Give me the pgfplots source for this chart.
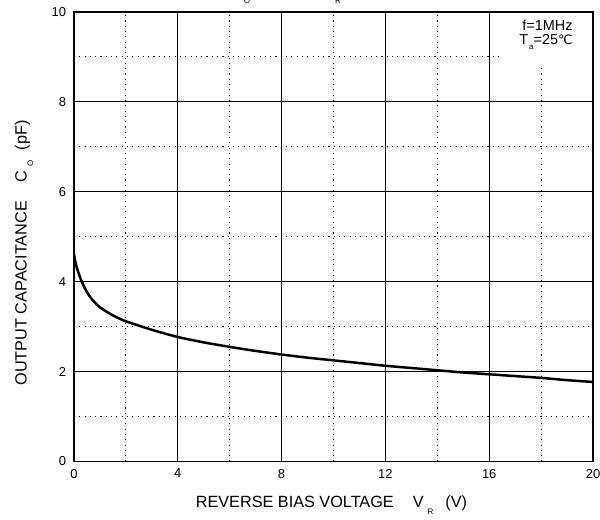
\documentclass[border=0pt]{standalone}
\usepackage{fontspec}
\setmainfont{Liberation Sans}
\newfontfamily\dejavu{DejaVu Sans}
\usepackage{pgfplots}
\pgfplotsset{compat=1.18}

\newcommand{\sub}[1]{\raisebox{-6.5bp}{\fontsize{8}{8}\selectfont #1}}

\begin{document}
\begin{tikzpicture}
\begin{axis}[
    name=ax,
    scale only axis,
    width=519bp, height=449.5bp,
    xmin=0, xmax=20, ymin=0, ymax=10,
    xtick={0,4,...,20}, ytick={0,2,...,10},
    minor xtick={2,6,10,14,18}, minor ytick={1,3,5,7,9},
    grid=both,
    major grid style={black, line width=1bp},
    minor grid style={black, line width=1bp, dash pattern=on 1.1bp off 4.2bp},
    axis line style={black, line width=1.1bp},
    major tick length=0pt, minor tick length=0pt,
    tick style={draw=none},
    /pgf/number format/assume math mode=true,
    ticklabel style={font=\fontsize{13}{13}\selectfont},
    xticklabel style={yshift=-4bp},
    yticklabel style={xshift=-4.5bp},
    xlabel={REVERSE BIAS VOLTAGE\hspace{19bp}V\hspace{4bp}\sub{R}\hspace{12bp}(V)},
    ylabel={OUTPUT CAPACITANCE\hspace{19bp}C\hspace{4bp}\sub{O}\hspace{10bp}(pF)},
    label style={font=\fontsize{16.3}{16}\selectfont},
    xlabel style={at={(rel axis cs:0.496,-0.0968)}, anchor=center},
    ylabel style={at={(rel axis cs:-0.0963,0.464)}, anchor=center, rotate=0},
]
\fill[white] (axis cs:16.4,8.75) rectangle (axis cs:19.95,9.97);
\node[anchor=east, font=\fontsize{14.5}{15}\selectfont] at (axis cs:19.35,9.71) {f=1MHz};
\node[anchor=east, font=\fontsize{14.5}{15}\selectfont] at (axis cs:19.35,9.33)
    {T\hspace{1bp}\raisebox{-5.5bp}{\fontsize{8}{8}\selectfont a}=25{\dejavu\fontsize{13}{13}\selectfont ℃}};
\addplot[black, line width=2.5bp, smooth, tension=0.5] coordinates {
    (0,4.61) (0.05,4.45) (0.1,4.33) (0.2,4.15) (0.3,4.00) (0.45,3.82)
    (0.62,3.66) (0.8,3.54) (1,3.43) (1.5,3.25) (2,3.12) (3,2.93)
    (4,2.77) (5,2.65) (6,2.55) (7,2.46) (8,2.38) (9,2.31) (10,2.25)
    (11,2.19) (12,2.13) (13,2.08) (14,2.03) (15,1.98) (16,1.94)
    (17,1.90) (18,1.86) (19,1.81) (20,1.77)
};
\end{axis}
% title, mostly cut off by the top of the page
\node[overlay, anchor=base, font=\fontsize{16}{16}\selectfont] at ([shift={(162bp,467bp)}]ax.south west) {C};
\node[overlay, anchor=base, font=\fontsize{8}{8}\selectfont] at ([shift={(173bp,458bp)}]ax.south west) {O};
\node[overlay, anchor=base, font=\fontsize{16}{16}\selectfont] at ([shift={(253bp,467bp)}]ax.south west) {V};
\node[overlay, anchor=base, font=\fontsize{8}{8}\selectfont] at ([shift={(264bp,458bp)}]ax.south west) {R};
\pgfresetboundingbox
\path[use as bounding box] ([shift={(-74bp,-58.5bp)}]ax.south west) rectangle ([shift={(526bp,461.5bp)}]ax.south west);
\end{tikzpicture}
\end{document}
